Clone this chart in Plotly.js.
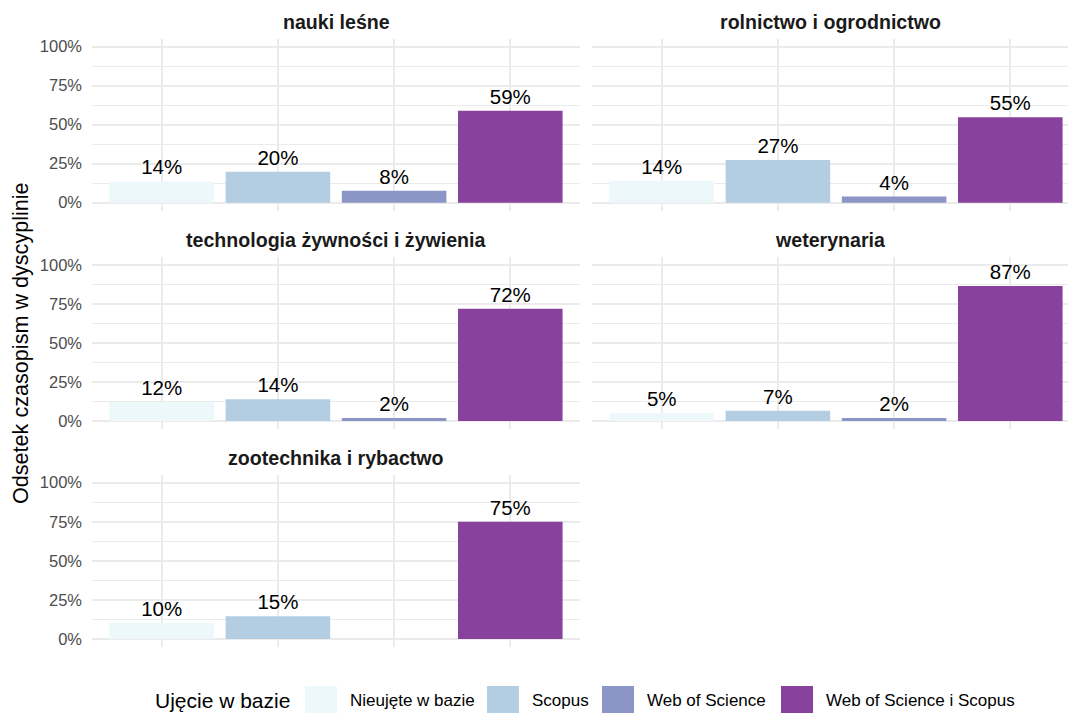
<!DOCTYPE html>
<html>
<head>
<meta charset="utf-8">
<script src="https://cdn.plot.ly/plotly-3.0.1.min.js"></script>
<style>
  html, body { margin: 0; padding: 0; background: #ffffff; }
  #chart { width: 1068px; height: 713px; }
</style>
</head>
<body>
<div id="chart"></div>
<script>
// ---------- data ----------
const disciplines = [
  'nauki leśne',
  'rolnictwo i ogrodnictwo',
  'technologia żywności i żywienia',
  'weterynaria',
  'zootechnika i rybactwo'
];
const series = ['Nieujęte w bazie', 'Scopus', 'Web of Science', 'Web of Science i Scopus'];
const naukiLesne = [13.6, 19.8, 7.7, 58.9];
const rolnictwo = [14.0, 27.3, 3.9, 54.8];
const technologia = [12.1, 14.0, 2.0, 71.9];
const weterynaria = [5.0, 6.6, 1.9, 86.5];
const zootechnika = [10.4, 14.6, null, 75.0];
const seriesColors = ['#EDF8FB', '#B3CDE3', '#8C96C6', '#88419D'];
const yTickVals = [0, 25, 50, 75, 100];
const yTickText = ['0%', '25%', '50%', '75%', '100%'];
const yAxisTitle = 'Odsetek czasopism w dyscyplinie';
const legendTitle = 'Ujęcie w bazie';

const panelValues = [naukiLesne, rolnictwo, technologia, weterynaria, zootechnika];

// ---------- layout geometry (pixels) ----------
const W = 1068, H = 713;
const FONT = 'Liberation Sans, Arial, Helvetica, sans-serif';
const colPx = [[92, 580], [592, 1068]];
const rowPx = [[38.9, 210.5], [257.2, 428.8], [474.9, 646.8]];
const unitPx = (580 - 92) / 4.2;
const GRID = '#EBEBEB';

const traces = [];
const layout = {
  width: W, height: H,
  margin: {l: 0, r: 0, t: 0, b: 0, pad: 0},
  paper_bgcolor: '#ffffff',
  plot_bgcolor: 'rgba(0,0,0,0)',
  showlegend: false,
  bargap: 0.1,
  font: {family: FONT, color: '#000000'},
  annotations: [],
  shapes: []
};

panelValues.forEach((vals, i) => {
  const col = i % 2, row = Math.floor(i / 2);
  const n = i + 1;
  const xa = 'xaxis' + (n === 1 ? '' : n);
  const ya = 'yaxis' + (n === 1 ? '' : n);
  const xr = 'x' + (n === 1 ? '' : n);
  const yr = 'y' + (n === 1 ? '' : n);
  const xpx = colPx[col], ypx = rowPx[row];
  const widthUnits = (xpx[1] - xpx[0]) / unitPx;

  traces.push({
    type: 'bar',
    x: series,
    y: vals,
    xaxis: xr, yaxis: yr,
    width: 0.9,
    marker: {color: seriesColors, line: {width: 0}},
    text: vals.map(v => v === null ? '' : Math.round(v) + '%'),
    textposition: 'outside',
    cliponaxis: false,
    constraintext: 'none',
    textfont: {family: FONT, size: 20.5, color: '#000000'},
    hoverinfo: 'skip'
  });

  layout[xa] = {
    domain: [xpx[0] / W, xpx[1] / W],
    anchor: yr,
    type: 'category',
    categoryorder: 'array',
    categoryarray: series,
    range: [-0.6, -0.6 + widthUnits],
    showticklabels: false,
    ticks: '',
    showgrid: true,
    gridcolor: GRID,
    gridwidth: 2,
    zeroline: false,
    showline: false,
    fixedrange: true
  };
  layout[ya] = {
    domain: [1 - ypx[1] / H, 1 - ypx[0] / H],
    anchor: xr,
    range: [-5, 105],
    tickmode: 'array',
    tickvals: yTickVals,
    ticktext: yTickText,
    showticklabels: col === 0,
    ticks: '',
    ticklabelstandoff: 9,
    tickfont: {family: FONT, size: 16.5, color: '#4D4D4D'},
    showgrid: true,
    gridcolor: GRID,
    gridwidth: 2,
    minor: {dtick: 12.5, tick0: 0, showgrid: true, gridcolor: GRID, gridwidth: 1},
    zeroline: false,
    showline: false,
    automargin: false,
    fixedrange: true
  };

  // strip title
  layout.annotations.push({
    text: '<b>' + disciplines[i] + '</b>',
    xref: 'paper', yref: 'paper',
    x: (xpx[0] + Math.min(xpx[1], xpx[0] + 4.2 * unitPx)) / 2 / W,
    y: 1 - (ypx[0] - 17) / H,
    xanchor: 'center', yanchor: 'middle',
    showarrow: false,
    font: {family: FONT, size: 19.6, color: '#1A1A1A'}
  });
});

// y axis title
layout.annotations.push({
  text: yAxisTitle,
  xref: 'paper', yref: 'paper',
  x: 21 / W, y: 1 - 343 / H,
  xanchor: 'center', yanchor: 'middle',
  textangle: -90,
  showarrow: false,
  font: {family: FONT, size: 21.6, color: '#000000'}
});

// manual legend (keys + labels)
const legendCenterY = 1 - 700 / H;
layout.annotations.push({
  text: legendTitle,
  xref: 'paper', yref: 'paper',
  x: 152.7 / W, y: legendCenterY,
  xanchor: 'left', yanchor: 'middle',
  showarrow: false,
  font: {family: FONT, size: 21, color: '#000000'}
});
const keyLeft = [305, 487, 602, 781];
const keyW = 32;
series.forEach((s, k) => {
  layout.shapes.push({
    type: 'rect', xref: 'paper', yref: 'paper',
    x0: keyLeft[k] / W, x1: (keyLeft[k] + keyW) / W,
    y0: 1 - 714 / H, y1: 1 - 686 / H,
    fillcolor: seriesColors[k], line: {width: 0}
  });
  layout.annotations.push({
    text: s,
    xref: 'paper', yref: 'paper',
    x: (keyLeft[k] + keyW + 11) / W, y: legendCenterY,
    xanchor: 'left', yanchor: 'middle',
    showarrow: false,
    font: {family: FONT, size: 17, color: '#000000'}
  });
});

Plotly.newPlot('chart', traces, layout, {displayModeBar: false, staticPlot: true});
</script>
</body>
</html>
